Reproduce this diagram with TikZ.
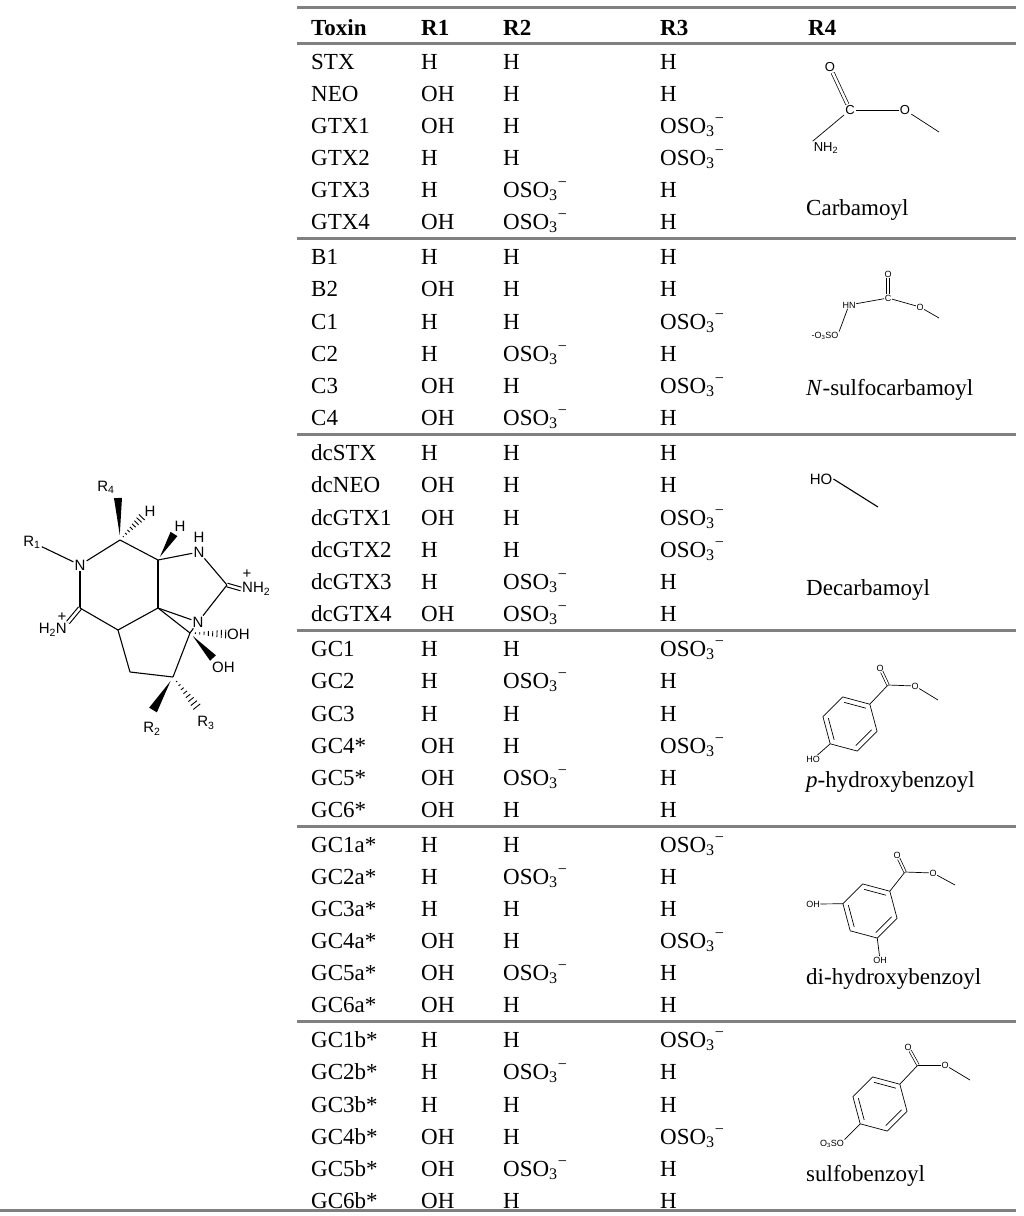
\documentclass[tikz,border=0pt]{standalone}
\usepackage{fontspec}
\setmainfont{Liberation Serif}
\newfontfamily\chem{Liberation Sans}
\usetikzlibrary{calc}
\tikzset{tx/.style={anchor=base west,yshift=-8pt,inner sep=0pt,font=\fontsize{23}{26}\selectfont},
hd/.style={tx,font=\fontsize{23}{26}\selectfont\bfseries},
rul/.style={line width=3pt,draw=black!50},
atm/.style={inner sep=1pt,font=\chem\fontsize{15}{16}\selectfont},
sat/.style={inner sep=1pt,font=\chem\fontsize{13}{14}\selectfont},
tat/.style={inner sep=0.5pt,font=\chem\fontsize{9}{10}\selectfont},
bd/.style={line width=1.1pt},
tb/.style={line width=0.7pt}}
\newcommand\Os{OSO\textsubscript{3}\textsuperscript{−}}
\newcommand\trow[6]{\node[tx] (#1t) at (311,#2) {#3};\node[tx] (#1a) at (421,#2) {#4};\node[tx] (#1b) at (503,#2) {#5};\node[tx] (#1c) at (660,#2) {#6};}
\newcommand\wdg[3]{\fill ($(#1)!0.12!(#2)$) -- ($(#2)!#3!90:(#1)$) -- ($(#2)!#3!-90:(#1)$) -- cycle;}
\newcommand\hsh[3]{\foreach \t in {0.15,0.27,...,1.0}{\coordinate (hp) at ($(#1)!\t!(#2)$);\draw[line width=0.9pt] ($(hp)!\t*#3!90:(#2)$) -- ($(hp)!\t*#3!-90:(#2)$);}}
\newcommand\ring[4]{\coordinate (#1c) at #2;
\foreach \k in {0,...,5}{\coordinate (#1\k) at ($(#1c)+(#3-60*\k:#4)$);}
\draw[tb] (#10)--(#11)--(#12)--(#13)--(#14)--(#15)--cycle;
\foreach \a/\b in {0/1,2/3,4/5}{\draw[tb] ($(#1\a)!0.2!(#1c)$) -- ($(#1\b)!0.2!(#1c)$);}}
\begin{document}
\begin{tikzpicture}[x=1pt,y=-1pt]
\useasboundingbox (0,0) rectangle (1024,1216);
% rules
\foreach \y/\n in {7/r0,43/r1,238/r2,434/r3,630/r4,826/r5,1021/r6}{\coordinate (\n a) at (297,\y);\coordinate (\n b) at (1016,\y);\draw[rul] (\n a) -- (\n b);}
\coordinate (r7a) at (0,1210);\coordinate (r7b) at (1016,1210);\draw[rul] (r7a) -- (r7b);
% header
\node[hd] (h0) at (311,27) {Toxin};\node[hd] (h1) at (421,27) {R1};\node[hd] (h2) at (503,27) {R2};\node[hd] (h3) at (660,27) {R3};\node[hd] (h4) at (808,27) {R4};
\trow{a1}{61}{STX}{H}{H}{H}
\trow{a2}{93}{NEO}{OH}{H}{H}
\trow{a3}{125}{GTX1}{OH}{H}{\Os}
\trow{a4}{157}{GTX2}{H}{H}{\Os}
\trow{a5}{189}{GTX3}{H}{\Os}{H}
\trow{a6}{221}{GTX4}{OH}{\Os}{H}
\trow{b1}{256}{B1}{H}{H}{H}
\trow{b2}{288}{B2}{OH}{H}{H}
\trow{b3}{321}{C1}{H}{H}{\Os}
\trow{b4}{353}{C2}{H}{\Os}{H}
\trow{b5}{385}{C3}{OH}{H}{\Os}
\trow{b6}{417}{C4}{OH}{\Os}{H}
\trow{c1}{452}{dcSTX}{H}{H}{H}
\trow{c2}{484}{dcNEO}{OH}{H}{H}
\trow{c3}{517}{dcGTX1}{OH}{H}{\Os}
\trow{c4}{549}{dcGTX2}{H}{H}{\Os}
\trow{c5}{581}{dcGTX3}{H}{\Os}{H}
\trow{c6}{613}{dcGTX4}{OH}{\Os}{H}
\trow{d1}{648}{GC1}{H}{H}{\Os}
\trow{d2}{680}{GC2}{H}{\Os}{H}
\trow{d3}{713}{GC3}{H}{H}{H}
\trow{d4}{745}{GC4*}{OH}{H}{\Os}
\trow{d5}{777}{GC5*}{OH}{\Os}{H}
\trow{d6}{809}{GC6*}{OH}{H}{H}
\trow{e1}{844}{GC1a*}{H}{H}{\Os}
\trow{e2}{876}{GC2a*}{H}{\Os}{H}
\trow{e3}{908}{GC3a*}{H}{H}{H}
\trow{e4}{940}{GC4a*}{OH}{H}{\Os}
\trow{e5}{972}{GC5a*}{OH}{\Os}{H}
\trow{e6}{1004}{GC6a*}{OH}{H}{H}
\trow{f1}{1039}{GC1b*}{H}{H}{\Os}
\trow{f2}{1071}{GC2b*}{H}{\Os}{H}
\trow{f3}{1104}{GC3b*}{H}{H}{H}
\trow{f4}{1136}{GC4b*}{OH}{H}{\Os}
\trow{f5}{1168}{GC5b*}{OH}{\Os}{H}
\trow{f6}{1200}{GC6b*}{OH}{H}{H}
% R4 labels
\node[tx] (l1) at (806,207) {Carbamoyl};
\node[tx] (l2) at (806,387) {\textit{N}-sulfocarbamoyl};
\node[tx] (l3) at (806,587) {Decarbamoyl};
\node[tx] (l4) at (806,779) {\textit{p}-hydroxybenzoyl};
\node[tx] (l5) at (806,976) {di-hydroxybenzoyl};
\node[tx] (l6) at (806,1173) {sulfobenzoyl};
% carbamoyl
\node[sat] (ca1) at (830,67) {O};
\node[sat] (ca2) at (850,110) {C};
\node[sat] (ca3) at (905,110) {O};
\coordinate (ca4) at (939,132);
\node[sat] (ca5) at (826,148) {NH\textsubscript{2}};
\draw[tb,double distance=2.5pt] (ca2) -- (ca1);
\draw[tb] (ca2) -- (ca3); \draw[tb] (ca3) -- (ca4); \draw[tb] (ca2) -- (ca5.north west);
% N-sulfocarbamoyl
\node[tat] (sc1) at (888,274) {O};
\node[tat] (sc2) at (888,298) {C};
\node[tat] (sc3) at (849,305) {HN};
\node[tat] (sc4) at (920,307) {O};
\coordinate (sc5) at (939,318);
\node[tat] (sc6) at (825,336) {-O\textsubscript{3}SO};
\draw[tb,double distance=2pt] (sc2) -- (sc1);
\draw[tb] (sc3) -- (sc2); \draw[tb] (sc2) -- (sc4); \draw[tb] (sc4) -- (sc5); \draw[tb] (sc3) -- (sc6.north east);
% decarbamoyl
\node[atm] (dc1) at (821,479) {HO};
\coordinate (dc2) at (878,507);
\draw[bd] (dc1.east) -- (dc2);
% p-hydroxybenzoyl
\ring{p}{(850,724)}{-45}{28}
\coordinate (pC) at (888,685);
\node[tat] (pO) at (880,668) {O};
\node[tat] (pO2) at (915,686) {O};
\coordinate (pE) at (938,700);
\node[tat] (pH) at (813,759) {HO};
\draw[tb] (p0) -- (pC); \draw[tb,double distance=1.8pt] (pC) -- (pO); \draw[tb] (pC) -- (pO2); \draw[tb] (pO2) -- (pE); \draw[tb] (p3) -- (pH);
% di-hydroxybenzoyl
\ring{q}{(870,911)}{-45}{28}
\coordinate (qC) at (905,872);
\node[tat] (qO) at (897,855) {O};
\node[tat] (qO2) at (933,873) {O};
\coordinate (qE) at (955,885);
\node[tat] (qH1) at (813,904) {OH};
\node[tat] (qH2) at (880,960) {OH};
\draw[tb] (q0) -- (qC); \draw[tb,double distance=1.8pt] (qC) -- (qO); \draw[tb] (qC) -- (qO2); \draw[tb] (qO2) -- (qE); \draw[tb] (q2) -- (qH1); \draw[tb] (q4) -- (qH2);
% sulfobenzoyl
\ring{s}{(880,1104)}{-45}{28}
\coordinate (sC) at (918,1065);
\node[tat] (sO) at (908,1047) {O};
\node[tat] (sO2) at (945,1065) {O};
\coordinate (sE) at (970,1080);
\node[tat] (sH) at (832,1144) {O\textsubscript{3}SO};
\draw[tb] (s0) -- (sC); \draw[tb,double distance=1.8pt] (sC) -- (sO); \draw[tb] (sC) -- (sO2); \draw[tb] (sO2) -- (sE); \draw[tb] (s3) -- (sH.north east);
% main structure
\coordinate (c4) at (120,540); \coordinate (c5) at (158,560); \coordinate (cc) at (158,608);
\coordinate (c6) at (80,608); \coordinate (cb) at (118,630); \coordinate (ch) at (130,672);
\coordinate (cr) at (173,677); \coordinate (co) at (190,633); \coordinate (c2) at (227,585);
\node[atm] (R1) at (32,542) {R\textsubscript{1}};
\node[atm] (N1) at (80,565) {N};
\node[atm] (R4) at (106,487) {R\textsubscript{4}};
\coordinate (R4b) at (118,498);
\node[atm] (H4) at (150,511) {H};
\coordinate (H4b) at (142,517);
\node[atm] (H5) at (180,526) {H};
\coordinate (H5b) at (174,534);
\node[atm] (N3) at (199,552) {N};
\node[atm] (N3h) at (199,537) {H};
\node[atm,anchor=west] (NH2) at (241,589) {NH\textsubscript{2}};
\node[atm] (p1) at (247,574) {+};
\node[atm] (N7) at (198,622) {N};
\node[atm,anchor=east] (H2N) at (68,630) {H\textsubscript{2}N};
\node[atm] (p2) at (62,617) {+};
\node[atm,anchor=west] (OH1) at (226,634) {OH};
\node[atm,anchor=west] (OH2) at (211,667) {OH};
\coordinate (OH2b) at (213,658);
\node[atm] (R2) at (152,729) {R\textsubscript{2}};
\coordinate (R2b) at (153,710);
\node[atm] (R3) at (206,723) {R\textsubscript{3}};
\coordinate (R3b) at (197,707);
\draw[bd] (R1) -- (N1); \draw[bd] (N1) -- (c4); \draw[bd] (c4) -- (c5); \draw[bd] (c5) -- (N3);
\draw[bd] (N3) -- (c2); \draw[bd,double distance=2.5pt] (c2) -- (NH2.west); \draw[bd] (c2) -- (N7);
\draw[bd] (N7) -- (cc); \draw[bd] (cc) -- (c5); \draw[bd] (N1) -- (c6);
\draw[bd,double distance=2.5pt] (c6) -- (H2N.north east); \draw[bd] (c6) -- (cb); \draw[bd] (cb) -- (cc);
\draw[bd] (cb) -- (ch); \draw[bd] (ch) -- (cr); \draw[bd] (cr) -- (co); \draw[bd] (co) -- (cc); \draw[bd] (N7) -- (co);
\wdg{c4}{R4b}{4pt}
\hsh{c4}{H4b}{4pt}
\wdg{c5}{H5b}{4pt}
\hsh{co}{OH1.west}{4.5pt}
\wdg{co}{OH2b}{4pt}
\wdg{cr}{R2b}{4.5pt}
\hsh{cr}{R3b}{4.5pt}
\end{tikzpicture}
\end{document}
